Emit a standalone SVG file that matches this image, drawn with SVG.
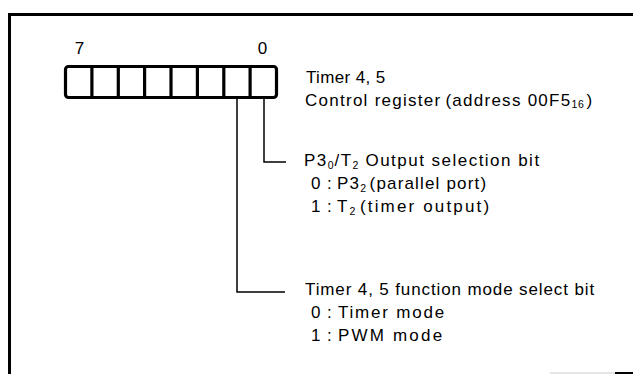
<svg xmlns="http://www.w3.org/2000/svg" width="633" height="374" viewBox="0 0 633 374">
<style>
text{font-family:"Liberation Sans",Arial,sans-serif;font-size:17px;letter-spacing:0.9px;fill:#000}
.sub{font-size:10.5px;letter-spacing:0.3px}
.frame{fill:none;stroke:#000;stroke-width:3}
.cell{fill:#fff;stroke:#000;stroke-width:3.2}
.conn{fill:none;stroke:#000;stroke-width:1.5}
</style>
<rect width="633" height="374" fill="#fff"/>
<g id="frame">
<path class="frame" d="M9.5,374 V14.5 H633"/>
<path d="M615,373 H633" stroke="#000" stroke-width="2"/>
<path d="M550,373 H615" stroke="#ccc" stroke-width="1"/>
</g>
<g id="register">
<text x="80" y="54" text-anchor="middle">7</text>
<text x="263" y="54" text-anchor="middle">0</text>
<rect class="cell" x="65.5" y="66.5" width="211" height="31" rx="3"/>
<path class="cell" d="M91.9,66.5V97.5M118.3,66.5V97.5M144.6,66.5V97.5M171,66.5V97.5M197.4,66.5V97.5M223.8,66.5V97.5M250.1,66.5V97.5"/>
<text x="306" y="83" textLength="80" lengthAdjust="spacing">Timer 4, 5</text>
<text x="305" y="106" textLength="288" lengthAdjust="spacing">Control register<tspan dx="4">(address 00F5</tspan><tspan class="sub" dy="2">16</tspan><tspan dy="-2" dx="2">)</tspan></text>
</g>
<g id="connectors">
<path class="conn" d="M264,98 V162 H286"/>
<path class="conn" d="M237,98 V292 H285"/>
</g>
<g id="bit0">
<text x="304" y="166" textLength="236" lengthAdjust="spacing">P3<tspan class="sub" dy="3">0</tspan><tspan dy="-3">/T</tspan><tspan class="sub" dy="3">2</tspan><tspan dy="-3"> Output selection bit</tspan></text>
<text x="311" y="189">0</text><text x="327" y="189">:</text>
<text x="337" y="189" textLength="150" lengthAdjust="spacing">P3<tspan class="sub" dy="3">2</tspan><tspan dy="-3" dx="3">(parallel port)</tspan></text>
<text x="311" y="212">1</text><text x="327" y="212">:</text>
<text x="337" y="212" textLength="153" lengthAdjust="spacing">T<tspan class="sub" dy="3">2</tspan><tspan dy="-3" dx="3">(timer output)</tspan></text>
</g>
<g id="bit1">
<text x="305" y="295" textLength="290" lengthAdjust="spacing">Timer 4, 5 function mode select bit</text>
<text x="311" y="318">0</text><text x="327" y="318">:</text>
<text x="338" y="318" textLength="107" lengthAdjust="spacing">Timer mode</text>
<text x="311" y="341">1</text><text x="327" y="341">:</text>
<text x="338" y="341" textLength="105" lengthAdjust="spacing">PWM mode</text>
</g>
</svg>
